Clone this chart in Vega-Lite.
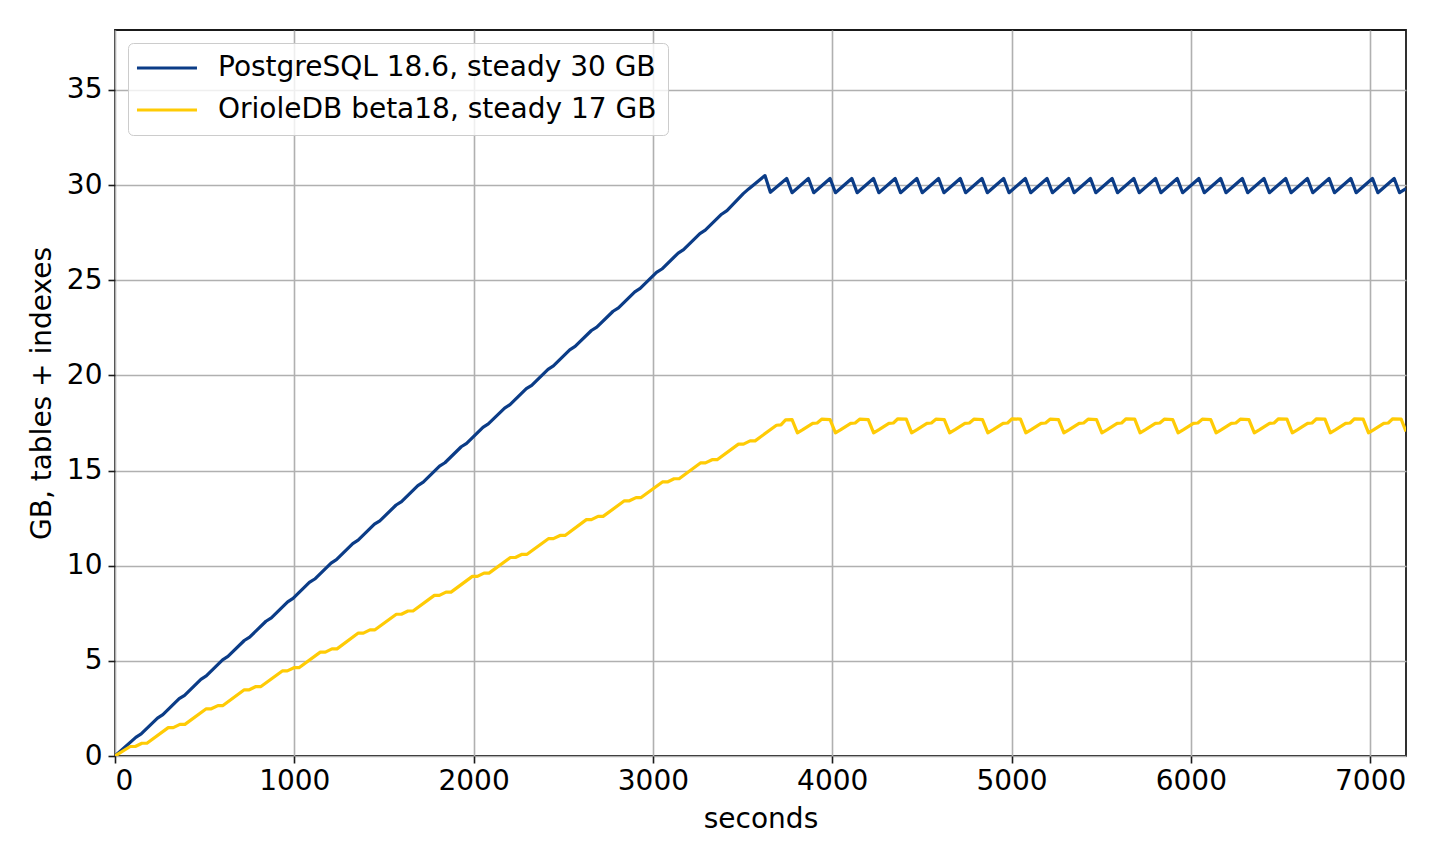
{
  "$schema": "https://vega.github.io/schema/vega-lite/v6.json",
  "autosize": "none",
  "width": 1291,
  "height": 726,
  "padding": {"left": 115, "top": 30, "right": 34, "bottom": 108},
  "background": "white",
  "config": {
    "font": "DejaVu Sans",
    "view": {"stroke": "#1a1a1a", "strokeWidth": 1.8},
    "axis": {
      "labelFont": "DejaVu Sans",
      "labelFontSize": 28,
      "labelColor": "#000",
      "titleFont": "DejaVu Sans",
      "titleFontSize": 28,
      "titleFontWeight": "normal",
      "titleColor": "#000",
      "tickColor": "#1a1a1a",
      "tickSize": 7,
      "tickWidth": 1.6,
      "domain": false,
      "gridColor": "#b0b0b0",
      "gridWidth": 1.6
    },
    "legend": {
      "labelFont": "DejaVu Sans",
      "labelFontSize": 28,
      "labelColor": "#000",
      "labelLimit": 0
    }
  },
  "datasets": {
    "postgres": [
      {"t": 0, "gb": 0}, {"t": 116, "gb": 0.98}, {"t": 146, "gb": 1.16},
      {"t": 237, "gb": 1.99}, {"t": 267, "gb": 2.17},
      {"t": 358, "gb": 3.01}, {"t": 388, "gb": 3.19},
      {"t": 479, "gb": 4.03}, {"t": 509, "gb": 4.21},
      {"t": 600, "gb": 5.05}, {"t": 630, "gb": 5.23},
      {"t": 721, "gb": 6.07}, {"t": 751, "gb": 6.25},
      {"t": 842, "gb": 7.08}, {"t": 872, "gb": 7.26},
      {"t": 963, "gb": 8.10}, {"t": 993, "gb": 8.28},
      {"t": 1084, "gb": 9.12}, {"t": 1114, "gb": 9.30},
      {"t": 1205, "gb": 10.14}, {"t": 1235, "gb": 10.32},
      {"t": 1326, "gb": 11.16}, {"t": 1356, "gb": 11.34},
      {"t": 1447, "gb": 12.18}, {"t": 1477, "gb": 12.36},
      {"t": 1568, "gb": 13.19}, {"t": 1598, "gb": 13.37},
      {"t": 1689, "gb": 14.21}, {"t": 1719, "gb": 14.39},
      {"t": 1810, "gb": 15.23}, {"t": 1840, "gb": 15.41},
      {"t": 1931, "gb": 16.25}, {"t": 1961, "gb": 16.43},
      {"t": 2052, "gb": 17.27}, {"t": 2082, "gb": 17.45},
      {"t": 2173, "gb": 18.28}, {"t": 2203, "gb": 18.46},
      {"t": 2294, "gb": 19.30}, {"t": 2324, "gb": 19.48},
      {"t": 2415, "gb": 20.32}, {"t": 2445, "gb": 20.50},
      {"t": 2536, "gb": 21.34}, {"t": 2566, "gb": 21.52},
      {"t": 2657, "gb": 22.36}, {"t": 2687, "gb": 22.54},
      {"t": 2778, "gb": 23.37}, {"t": 2808, "gb": 23.55},
      {"t": 2899, "gb": 24.39}, {"t": 2929, "gb": 24.57},
      {"t": 3020, "gb": 25.41}, {"t": 3050, "gb": 25.59},
      {"t": 3141, "gb": 26.43}, {"t": 3171, "gb": 26.61},
      {"t": 3262, "gb": 27.45}, {"t": 3292, "gb": 27.63},
      {"t": 3383, "gb": 28.47}, {"t": 3413, "gb": 28.66},
      {"t": 3504, "gb": 29.55}, {"t": 3534, "gb": 29.80},
      {"t": 3625, "gb": 30.50}, {"t": 3655, "gb": 29.62},
      {"t": 3746, "gb": 30.35}, {"t": 3776, "gb": 29.60},
      {"t": 3867, "gb": 30.35}, {"t": 3897, "gb": 29.60},
      {"t": 3988, "gb": 30.35}, {"t": 4018, "gb": 29.60},
      {"t": 4109, "gb": 30.35}, {"t": 4139, "gb": 29.60},
      {"t": 4230, "gb": 30.35}, {"t": 4260, "gb": 29.60},
      {"t": 4351, "gb": 30.35}, {"t": 4381, "gb": 29.60},
      {"t": 4472, "gb": 30.35}, {"t": 4502, "gb": 29.60},
      {"t": 4593, "gb": 30.35}, {"t": 4623, "gb": 29.60},
      {"t": 4714, "gb": 30.35}, {"t": 4744, "gb": 29.60},
      {"t": 4835, "gb": 30.35}, {"t": 4865, "gb": 29.60},
      {"t": 4956, "gb": 30.35}, {"t": 4986, "gb": 29.60},
      {"t": 5077, "gb": 30.35}, {"t": 5107, "gb": 29.60},
      {"t": 5198, "gb": 30.35}, {"t": 5228, "gb": 29.60},
      {"t": 5319, "gb": 30.35}, {"t": 5349, "gb": 29.60},
      {"t": 5440, "gb": 30.35}, {"t": 5470, "gb": 29.60},
      {"t": 5561, "gb": 30.35}, {"t": 5591, "gb": 29.60},
      {"t": 5682, "gb": 30.35}, {"t": 5712, "gb": 29.60},
      {"t": 5803, "gb": 30.35}, {"t": 5833, "gb": 29.60},
      {"t": 5924, "gb": 30.35}, {"t": 5954, "gb": 29.60},
      {"t": 6045, "gb": 30.35}, {"t": 6075, "gb": 29.60},
      {"t": 6166, "gb": 30.35}, {"t": 6196, "gb": 29.60},
      {"t": 6287, "gb": 30.35}, {"t": 6317, "gb": 29.60},
      {"t": 6408, "gb": 30.35}, {"t": 6438, "gb": 29.60},
      {"t": 6529, "gb": 30.35}, {"t": 6559, "gb": 29.60},
      {"t": 6650, "gb": 30.35}, {"t": 6680, "gb": 29.60},
      {"t": 6771, "gb": 30.35}, {"t": 6801, "gb": 29.60},
      {"t": 6892, "gb": 30.35}, {"t": 6922, "gb": 29.60},
      {"t": 7013, "gb": 30.35}, {"t": 7043, "gb": 29.60},
      {"t": 7134, "gb": 30.35}, {"t": 7164, "gb": 29.60},
      {"t": 7200, "gb": 29.82}
    ],
    "oriole": [
      {"t": 0, "gb": 0},
      {"t": 85, "gb": 0.50}, {"t": 113, "gb": 0.50}, {"t": 150, "gb": 0.67}, {"t": 178, "gb": 0.67},
      {"t": 297, "gb": 1.49}, {"t": 325, "gb": 1.49}, {"t": 362, "gb": 1.66}, {"t": 390, "gb": 1.66},
      {"t": 509, "gb": 2.48}, {"t": 537, "gb": 2.48}, {"t": 574, "gb": 2.65}, {"t": 602, "gb": 2.65},
      {"t": 721, "gb": 3.48}, {"t": 749, "gb": 3.48}, {"t": 786, "gb": 3.65}, {"t": 814, "gb": 3.65},
      {"t": 933, "gb": 4.47}, {"t": 961, "gb": 4.47}, {"t": 998, "gb": 4.64}, {"t": 1026, "gb": 4.64},
      {"t": 1145, "gb": 5.46}, {"t": 1173, "gb": 5.46}, {"t": 1210, "gb": 5.63}, {"t": 1238, "gb": 5.63},
      {"t": 1357, "gb": 6.46}, {"t": 1385, "gb": 6.46}, {"t": 1422, "gb": 6.63}, {"t": 1450, "gb": 6.63},
      {"t": 1569, "gb": 7.45}, {"t": 1597, "gb": 7.45}, {"t": 1634, "gb": 7.62}, {"t": 1662, "gb": 7.62},
      {"t": 1781, "gb": 8.44}, {"t": 1809, "gb": 8.44}, {"t": 1846, "gb": 8.61}, {"t": 1874, "gb": 8.61},
      {"t": 1993, "gb": 9.44}, {"t": 2021, "gb": 9.44}, {"t": 2058, "gb": 9.61}, {"t": 2086, "gb": 9.61},
      {"t": 2205, "gb": 10.43}, {"t": 2233, "gb": 10.43}, {"t": 2270, "gb": 10.60}, {"t": 2298, "gb": 10.60},
      {"t": 2417, "gb": 11.42}, {"t": 2445, "gb": 11.42}, {"t": 2482, "gb": 11.59}, {"t": 2510, "gb": 11.59},
      {"t": 2629, "gb": 12.42}, {"t": 2657, "gb": 12.42}, {"t": 2694, "gb": 12.59}, {"t": 2722, "gb": 12.59},
      {"t": 2841, "gb": 13.41}, {"t": 2869, "gb": 13.41}, {"t": 2906, "gb": 13.58}, {"t": 2934, "gb": 13.58},
      {"t": 3053, "gb": 14.40}, {"t": 3081, "gb": 14.40}, {"t": 3118, "gb": 14.57}, {"t": 3146, "gb": 14.57},
      {"t": 3265, "gb": 15.40}, {"t": 3293, "gb": 15.40}, {"t": 3330, "gb": 15.57}, {"t": 3358, "gb": 15.57},
      {"t": 3477, "gb": 16.39}, {"t": 3505, "gb": 16.39}, {"t": 3542, "gb": 16.56}, {"t": 3570, "gb": 16.56},
      {"t": 3689, "gb": 17.38}, {"t": 3714, "gb": 17.40}, {"t": 3740, "gb": 17.66},
      {"t": 3776, "gb": 17.68}, {"t": 3806, "gb": 16.98}, {"t": 3836, "gb": 17.15}, {"t": 3891, "gb": 17.48}, {"t": 3916, "gb": 17.50}, {"t": 3941, "gb": 17.70},
      {"t": 3988, "gb": 17.68}, {"t": 4018, "gb": 16.98}, {"t": 4048, "gb": 17.15}, {"t": 4103, "gb": 17.48}, {"t": 4128, "gb": 17.50}, {"t": 4153, "gb": 17.70},
      {"t": 4201, "gb": 17.68}, {"t": 4231, "gb": 16.98}, {"t": 4261, "gb": 17.15}, {"t": 4316, "gb": 17.48}, {"t": 4341, "gb": 17.50}, {"t": 4366, "gb": 17.72},
      {"t": 4413, "gb": 17.70}, {"t": 4443, "gb": 16.98}, {"t": 4473, "gb": 17.15}, {"t": 4528, "gb": 17.48}, {"t": 4553, "gb": 17.50}, {"t": 4578, "gb": 17.70},
      {"t": 4625, "gb": 17.68}, {"t": 4655, "gb": 16.98}, {"t": 4685, "gb": 17.15}, {"t": 4740, "gb": 17.48}, {"t": 4765, "gb": 17.50}, {"t": 4790, "gb": 17.70},
      {"t": 4838, "gb": 17.68}, {"t": 4868, "gb": 16.98}, {"t": 4898, "gb": 17.15}, {"t": 4953, "gb": 17.48}, {"t": 4978, "gb": 17.50}, {"t": 5003, "gb": 17.72},
      {"t": 5050, "gb": 17.70}, {"t": 5080, "gb": 16.98}, {"t": 5110, "gb": 17.15}, {"t": 5165, "gb": 17.48}, {"t": 5190, "gb": 17.50}, {"t": 5215, "gb": 17.70},
      {"t": 5262, "gb": 17.68}, {"t": 5292, "gb": 16.98}, {"t": 5322, "gb": 17.15}, {"t": 5377, "gb": 17.48}, {"t": 5402, "gb": 17.50}, {"t": 5427, "gb": 17.70},
      {"t": 5474, "gb": 17.68}, {"t": 5504, "gb": 16.98}, {"t": 5534, "gb": 17.15}, {"t": 5589, "gb": 17.48}, {"t": 5614, "gb": 17.50}, {"t": 5639, "gb": 17.72},
      {"t": 5687, "gb": 17.70}, {"t": 5717, "gb": 16.98}, {"t": 5747, "gb": 17.15}, {"t": 5802, "gb": 17.48}, {"t": 5827, "gb": 17.50}, {"t": 5852, "gb": 17.70},
      {"t": 5899, "gb": 17.68}, {"t": 5929, "gb": 16.98}, {"t": 5959, "gb": 17.15}, {"t": 6014, "gb": 17.48}, {"t": 6039, "gb": 17.50}, {"t": 6064, "gb": 17.70},
      {"t": 6111, "gb": 17.68}, {"t": 6141, "gb": 16.98}, {"t": 6171, "gb": 17.15}, {"t": 6226, "gb": 17.48}, {"t": 6251, "gb": 17.50}, {"t": 6276, "gb": 17.70},
      {"t": 6324, "gb": 17.68}, {"t": 6354, "gb": 16.98}, {"t": 6384, "gb": 17.15}, {"t": 6439, "gb": 17.48}, {"t": 6464, "gb": 17.50}, {"t": 6489, "gb": 17.72},
      {"t": 6536, "gb": 17.70}, {"t": 6566, "gb": 16.98}, {"t": 6596, "gb": 17.15}, {"t": 6651, "gb": 17.48}, {"t": 6676, "gb": 17.50}, {"t": 6701, "gb": 17.72},
      {"t": 6748, "gb": 17.70}, {"t": 6778, "gb": 16.98}, {"t": 6808, "gb": 17.15}, {"t": 6863, "gb": 17.48}, {"t": 6888, "gb": 17.50}, {"t": 6913, "gb": 17.72},
      {"t": 6961, "gb": 17.70}, {"t": 6991, "gb": 16.98}, {"t": 7021, "gb": 17.15}, {"t": 7076, "gb": 17.48}, {"t": 7101, "gb": 17.50}, {"t": 7126, "gb": 17.72},
      {"t": 7173, "gb": 17.70}, {"t": 7200, "gb": 17.05}
    ]
  },
  "encoding": {
    "x": {
      "field": "t",
      "type": "quantitative",
      "title": "seconds",
      "scale": {"domain": [0, 7200], "nice": false, "zero": false},
      "axis": {"values": [0, 1000, 2000, 3000, 4000, 5000, 6000, 7000], "format": "d", "labelPadding": 4, "titlePadding": 10, "grid": true}
    },
    "y": {
      "field": "gb",
      "type": "quantitative",
      "title": "GB, tables + indexes",
      "scale": {"domain": [0, 38.15], "nice": false},
      "axis": {"values": [0, 5, 10, 15, 20, 25, 30, 35], "labelPadding": 6, "titlePadding": 10, "grid": true}
    },
    "color": {
      "type": "nominal",
      "scale": {
        "domain": ["PostgreSQL 18.6, steady 30 GB", "OrioleDB beta18, steady 17 GB"],
        "range": ["#0b3c87", "#ffcb05"]
      },
      "legend": {
        "orient": "top-left",
        "offset": 13,
        "title": null,
        "symbolType": "M-2.67,0H7.33",
        "symbolSize": 144,
        "symbolStrokeWidth": 3.2,
        "labelOffset": 51,
        "rowPadding": 14,
        "padding": 11,
        "fillColor": "rgba(255,255,255,0.8)",
        "strokeColor": "#cccccc",
        "cornerRadius": 5
      }
    }
  },
  "layer": [
    {
      "data": {"name": "postgres"},
      "mark": {"type": "line", "strokeWidth": 3.2, "strokeJoin": "round", "clip": true},
      "encoding": {"color": {"datum": "PostgreSQL 18.6, steady 30 GB"}}
    },
    {
      "data": {"name": "oriole"},
      "mark": {"type": "line", "strokeWidth": 3.2, "strokeJoin": "round", "clip": true},
      "encoding": {"color": {"datum": "OrioleDB beta18, steady 17 GB"}}
    }
  ]
}
